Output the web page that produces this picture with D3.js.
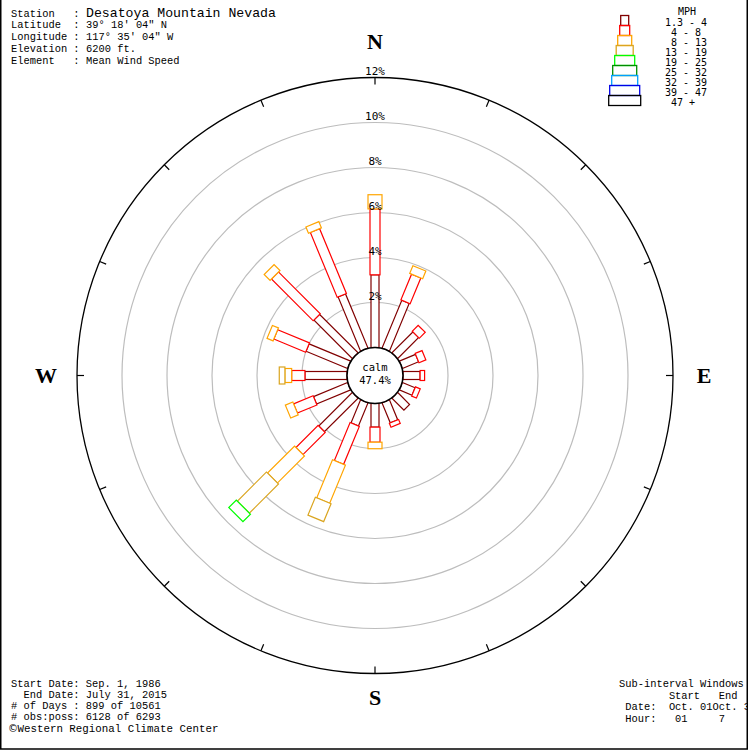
<!DOCTYPE html>
<html>
<head>
<meta charset="utf-8">
<script src="https://cdn.jsdelivr.net/npm/d3@7"></script>
<style>
  html, body { margin: 0; padding: 0; background: #fff; }
  svg { display: block; }
  text { white-space: pre; }
</style>
</head>
<body>
<div id="chart"></div>
<script>
// ---------------- DATA ----------------
const directions = ["N","NNE","NE","ENE","E","ESE","SE","SSE","S","SSW","SW","WSW","W","WNW","NW","NNW"];
const speedClasses = ["1.3 - 4", " 4 - 8", " 8 - 13", "13 - 19", "19 - 25", "25 - 32", "32 - 39", "39 - 47", " 47 +"];
const classColors = ["#800000", "#ff0000", "#ffa500", "#daa520", "#00ff00", "#008c00", "#00a0ff", "#0000e6", "#000000"];
// percent of observations per direction, per speed class
const s1_3to4  = [3.23, 2.30, 1.32, 0.78, 0.76, 0.61, 0.75, 0.96, 1.05, 1.11, 2.11, 1.64, 1.87, 2.00, 2.42, 2.61];
const s4to8    = [2.93, 1.24, 0.37, 0.33, 0.20, 0.23, 0.00, 0.19, 0.67, 1.83, 1.39, 0.94, 0.59, 1.53, 2.62, 3.12];
const s8to13   = [0.63, 0.37, 0.00, 0.00, 0.00, 0.00, 0.00, 0.00, 0.29, 1.83, 1.70, 0.36, 0.30, 0.29, 0.37, 0.30];
const s13to19  = [0.00, 0.00, 0.00, 0.00, 0.00, 0.00, 0.00, 0.00, 0.00, 0.86, 1.83, 0.00, 0.25, 0.00, 0.00, 0.00];
const s19to25  = [0.00, 0.00, 0.00, 0.00, 0.00, 0.00, 0.00, 0.00, 0.00, 0.00, 0.47, 0.00, 0.00, 0.00, 0.00, 0.00];
const s25to32  = [0,0,0,0,0,0,0,0,0,0,0,0,0,0,0,0];
const s32to39  = [0,0,0,0,0,0,0,0,0,0,0,0,0,0,0,0];
const s39to47  = [0,0,0,0,0,0,0,0,0,0,0,0,0,0,0,0];
const s47plus  = [0,0,0,0,0,0,0,0,0,0,0,0,0,0,0,0];
const series = [s1_3to4, s4to8, s8to13, s13to19, s19to25, s25to32, s32to39, s39to47, s47plus];
const calmPct = "47.4%";
const ringTicks = [2, 4, 6, 8, 10, 12];
const compass = [["N", 0], ["E", 90], ["S", 180], ["W", 270]];

const headerLabels = ["Station   : ", "Latitude  : ", "Longitude : ", "Elevation : ", "Element   : "];
const headerValues = ["Desatoya Mountain Nevada", "39° 18' 04\" N", "117° 35' 04\" W", "6200 ft.", "Mean Wind Speed"];
const footerLeft = ["Start Date: Sep. 1, 1986", "  End Date: July 31, 2015", "# of Days : 899 of 10561", "# obs:poss: 6128 of 6293"];
const credit = "Western Regional Climate Center";
const footerRight = ["Sub-interval Windows", "        Start   End", " Date:  Oct. 01Oct. 31", " Hour:   01     7"];

// ---------------- LAYOUT ----------------
const W = 750, H = 750;
const cx = 375, cy = 375.5;
const r = d3.scaleLinear().domain([0, 12]).range([28, 298]);
const barWidths = [8, 10, 14, 17, 20, 24, 26, 30, 32];
const mono = "'Liberation Mono', 'DejaVu Sans Mono', monospace";
const smono = "'DejaVu Sans Mono', monospace";

const svg = d3.select("#chart").append("svg").attr("width", W).attr("height", H);
svg.append("defs").append("clipPath").attr("id", "frameClip")
  .append("rect").attr("x", 0).attr("y", 0).attr("width", 747).attr("height", 748.5);
const root = svg.append("g").attr("clip-path", "url(#frameClip)");

const rose = root.append("g").attr("transform", `translate(${cx},${cy})`);

// rings
rose.selectAll("circle.ring").data(ringTicks).join("circle")
  .attr("class", "ring")
  .attr("r", d => r(d))
  .attr("fill", "none")
  .attr("stroke", d => d === 12 ? "#000" : "#bdbdbd")
  .attr("stroke-width", d => d === 12 ? 1.3 : 1.2);

// direction ticks on outer ring
const tickAngles = d3.range(16).map(i => i * 22.5);
rose.selectAll("line.tick").data(tickAngles).join("line")
  .attr("class", "tick")
  .attr("transform", d => `rotate(${d})`)
  .attr("x1", 0).attr("x2", 0)
  .attr("y1", -r(12)).attr("y2", -r(12) + 7)
  .attr("stroke", "#000").attr("stroke-width", 1.2);

// bars
const segs = [];
directions.forEach((dir, i) => {
  let cum = 0;
  series.forEach((s, k) => {
    const v = s[i];
    if (v > 0) {
      segs.push({ angle: i * 22.5, start: cum, end: cum + v, k });
      cum += v;
    }
  });
});
rose.selectAll("rect.seg").data(segs).join("rect")
  .attr("class", "seg")
  .attr("transform", d => `rotate(${d.angle})`)
  .attr("x", d => -barWidths[d.k] / 2)
  .attr("width", d => barWidths[d.k])
  .attr("y", d => -r(d.end))
  .attr("height", d => r(d.end) - r(d.start))
  .attr("fill", "#fff")
  .attr("stroke", d => classColors[d.k])
  .attr("stroke-width", 1.2);

// ring labels
rose.selectAll("text.rl").data(ringTicks).join("text")
  .attr("class", "rl")
  .attr("x", 0).attr("y", d => -r(d) - 3)
  .attr("text-anchor", "middle")
  .attr("font-family", smono).attr("font-size", 11)
  .attr("fill", "#000")
  .text(d => d + "%");

// calm circle
rose.append("circle").attr("r", r(0)).attr("fill", "#fff").attr("stroke", "#000").attr("stroke-width", 1.6);
rose.append("text").attr("x", 0).attr("y", -4.5).attr("text-anchor", "middle")
  .attr("font-family", smono).attr("font-size", 10.5).text("calm");
rose.append("text").attr("x", 0).attr("y", 8).attr("text-anchor", "middle")
  .attr("font-family", smono).attr("font-size", 10.5).text(calmPct);

// compass letters (positions relative to center)
const compassPos = { N: [0, -327], E: [329, 7.5], S: [0, 329.5], W: [-329, 7.5] };
rose.selectAll("text.cp").data(compass).join("text")
  .attr("class", "cp")
  .attr("x", d => compassPos[d[0]][0])
  .attr("y", d => compassPos[d[0]][1])
  .attr("text-anchor", "middle")
  .attr("font-family", "'Liberation Serif', 'DejaVu Serif', serif")
  .attr("font-size", 22).attr("font-weight", "bold")
  .text(d => d[0]);

// header
const header = root.append("g");
headerLabels.forEach((lab, i) => {
  header.append("text").attr("x", 11).attr("y", 16.5 + i * 11.8)
    .attr("font-family", mono).attr("font-size", 10.4).text(lab);
  header.append("text").attr("x", 86).attr("y", 16.5 + i * 11.8)
    .attr("font-family", mono).attr("font-size", i === 0 ? 13.2 : 10.4).text(headerValues[i]);
});

// legend
const legend = root.append("g");
legend.append("text").attr("x", 687).attr("y", 15).attr("text-anchor", "middle")
  .attr("font-family", smono).attr("font-size", 10).text("MPH");
speedClasses.forEach((lab, i) => {
  legend.append("rect")
    .attr("x", 624.7 - barWidths[i] / 2).attr("y", 15.5 + i * 10)
    .attr("width", barWidths[i]).attr("height", 10)
    .attr("fill", "none").attr("stroke", classColors[i]).attr("stroke-width", 1.3);
  legend.append("text").attr("x", 665).attr("y", 26 + i * 10)
    .attr("font-family", smono).attr("font-size", 10).text(lab);
});

// footer left
footerLeft.forEach((t, i) => {
  root.append("text").attr("x", 11).attr("y", 686.5 + i * 11.3)
    .attr("font-family", mono).attr("font-size", 10.4).text(t);
});
root.append("text").attr("x", 8).attr("y", 732)
  .attr("font-family", "'DejaVu Sans', sans-serif").attr("font-size", 10).text("©");
root.append("text").attr("x", 17.5).attr("y", 732)
  .attr("font-family", mono).attr("font-size", 10.8).text(credit);

// footer right
footerRight.forEach((t, i) => {
  root.append("text").attr("x", 619).attr("y", 687 + i * 11.5)
    .attr("font-family", mono).attr("font-size", 10.4).text(t);
});

// frame
svg.append("rect").attr("x", 0.75).attr("y", -5).attr("width", 746.5).attr("height", 754)
  .attr("fill", "none").attr("stroke", "#000").attr("stroke-width", 1.5);
</script>
</body>
</html>
